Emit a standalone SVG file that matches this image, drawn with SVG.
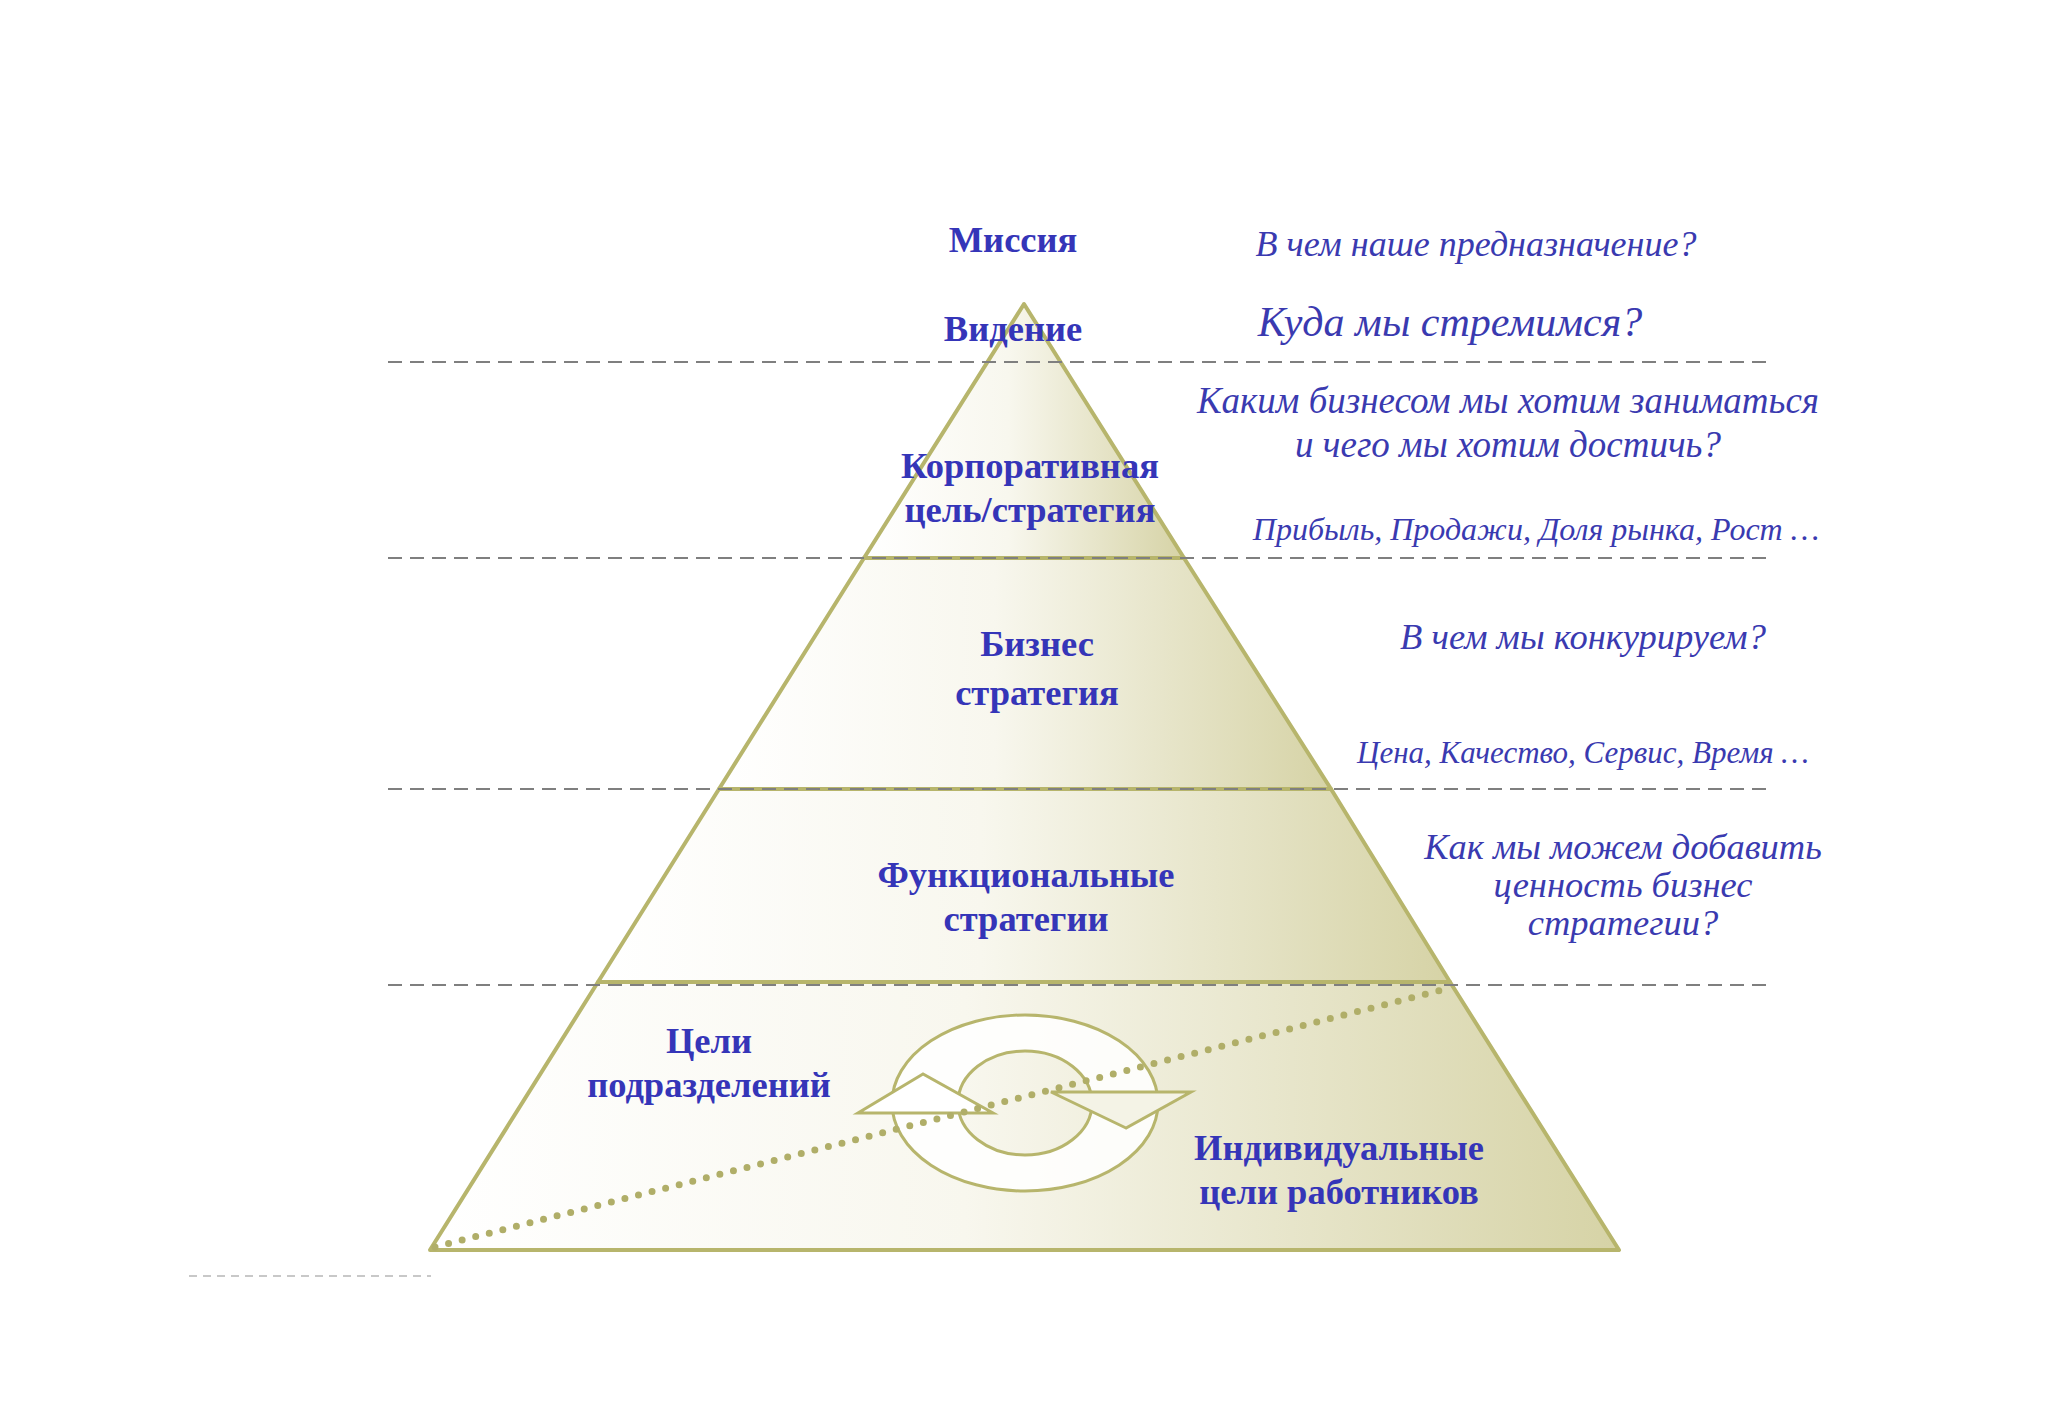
<svg xmlns="http://www.w3.org/2000/svg" width="2048" height="1418" viewBox="0 0 2048 1418">
<defs>
<linearGradient id="g" x1="0" y1="0" x2="1" y2="0"><stop offset="0" stop-color="#ffffff"/><stop offset="0.45" stop-color="#f8f7ee"/><stop offset="1" stop-color="#d6d3a6"/></linearGradient>
<linearGradient id="gt" x1="0" y1="0" x2="1" y2="0"><stop offset="0" stop-color="#ffffff"/><stop offset="0.5" stop-color="#eeecd9"/><stop offset="1" stop-color="#d6d3a6"/></linearGradient>
<style>
.b{fill:url(#g);stroke:#b7b56c;stroke-width:4;stroke-linejoin:round}
.d{stroke:#7f7f7f;stroke-width:2;stroke-dasharray:14 8;fill:none}
.n{font-family:"Liberation Serif",serif;font-weight:bold;font-size:36.5px;fill:#3535b8;text-anchor:middle}
.q{font-family:"Liberation Serif",serif;font-style:italic;fill:#3a3ab0;text-anchor:middle}
</style>
</defs>
<rect width="2048" height="1418" fill="#fff"/>
<g id="bands">
<polygon class="b" points="1024,304 864,558 1184,558" fill="url(#gt)"/>
<polygon class="b" points="864,558 1184,558 1331,789 719,789"/>
<polygon class="b" points="719,789 1331,789 1450,982 598,982"/>
<polygon class="b" points="598,982 1450,982 1619,1250 430,1250"/>
</g>
<g id="cycle">
<path d="M892,1103a133,88 0 1,0 266,0a133,88 0 1,0 -266,0ZM958,1103a67,52 0 1,0 134,0a67,52 0 1,0 -134,0Z" fill="#fff" fill-opacity="0.85" fill-rule="evenodd" stroke="#b7b56c" stroke-width="3"/>
<polygon points="923,1074 858,1113 993,1113" fill="#fff" stroke="#b7b56c" stroke-width="3"/>
<polygon points="1126,1128 1051,1092 1191,1092" fill="#f4f3e6" stroke="#b7b56c" stroke-width="3"/>
</g>
<g id="connectors">
<line class="d" x1="388" y1="362" x2="1770" y2="362"/>
<line class="d" x1="388" y1="558" x2="1770" y2="558"/>
<line class="d" x1="388" y1="789" x2="1770" y2="789"/>
<line class="d" x1="388" y1="985" x2="1770" y2="985"/>
<line x1="189" y1="1276" x2="431" y2="1276" stroke="#c8c8c8" stroke-width="2" stroke-dasharray="8 6"/>
<line x1="435" y1="1247" x2="1450" y2="988" stroke="#b0ae68" stroke-width="7" stroke-linecap="round" stroke-dasharray="0 14"/>
</g>
<g id="n1"><text class="n" x="1013" y="252">Миссия</text></g>
<g id="n2"><text class="n" x="1013" y="341">Видение</text></g>
<g id="n3"><text class="n" x="1030" y="478">Корпоративная</text><text class="n" x="1030" y="522">цель/стратегия</text></g>
<g id="n4"><text class="n" x="1037" y="656">Бизнес</text><text class="n" x="1037" y="705">стратегия</text></g>
<g id="n5"><text class="n" x="1026" y="887">Функциональные</text><text class="n" x="1026" y="931">стратегии</text></g>
<g id="n6"><text class="n" x="709" y="1053">Цели</text><text class="n" x="709" y="1097">подразделений</text></g>
<g id="n7"><text class="n" x="1339" y="1160">Индивидуальные</text><text class="n" x="1339" y="1204">цели работников</text></g>
<g id="q">
<text class="q" x="1476" y="256" font-size="36">В чем наше предназначение?</text>
<text class="q" x="1450" y="336" font-size="42">Куда мы стремимся?</text>
<text class="q" x="1508" y="413" font-size="37">Каким бизнесом мы хотим заниматься</text>
<text class="q" x="1508" y="457" font-size="37">и чего мы хотим достичь?</text>
<text class="q" x="1536" y="540" font-size="32">Прибыль, Продажи, Доля  рынка, Рост …</text>
<text class="q" x="1583" y="649" font-size="36.5">В чем мы конкурируем?</text>
<text class="q" x="1583" y="763" font-size="31">Цена, Качество, Сервис, Время …</text>
<text class="q" x="1623" y="859" font-size="36.5">Как мы можем добавить</text>
<text class="q" x="1623" y="897" font-size="36.5">ценность бизнес</text>
<text class="q" x="1623" y="935" font-size="36.5">стратегии?</text>
</g>
</svg>
